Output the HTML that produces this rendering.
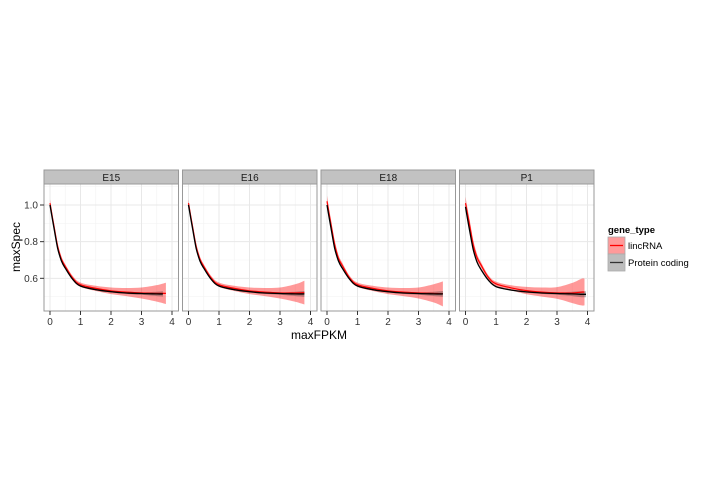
<!DOCTYPE html>
<html><head><meta charset="utf-8"><style>
body{margin:0;background:#fff;}
svg{display:block;font-family:"Liberation Sans",sans-serif;}
</style></head><body>
<svg id="chart" width="720" height="504" viewBox="0 0 720 504"></svg>
<script>
const panels = ["E15","E16","E18","P1"];
const xs = [0,0.125,0.25,0.375,0.5,0.75,1,1.5,2,2.5,3,3.5,3.8];
const linc = {
 E15:[1.01,0.89,0.775,0.705,0.665,0.60,0.565,0.545,0.532,0.525,0.52,0.518,0.518],
 E16:[1.01,0.89,0.775,0.705,0.665,0.60,0.565,0.545,0.532,0.525,0.52,0.52,0.522],
 E18:[1.02,0.90,0.785,0.71,0.67,0.60,0.565,0.545,0.532,0.525,0.52,0.518,0.515],
 P1:[1.01,0.90,0.785,0.715,0.675,0.605,0.57,0.548,0.533,0.525,0.52,0.52,0.525]};
const lincHalf = {
 E15:[0.02,0.02,0.02,0.015,0.012,0.012,0.012,0.014,0.018,0.022,0.03,0.045,0.058],
 E16:[0.02,0.02,0.02,0.015,0.012,0.012,0.012,0.014,0.018,0.022,0.03,0.048,0.065],
 E18:[0.03,0.028,0.025,0.018,0.015,0.012,0.012,0.014,0.018,0.022,0.03,0.05,0.068],
 P1:[0.035,0.03,0.028,0.02,0.015,0.012,0.012,0.014,0.02,0.025,0.032,0.055,0.073]};
const prot = {
 E15:[1.0,0.88,0.765,0.695,0.655,0.593,0.558,0.538,0.527,0.52,0.517,0.515,0.515],
 E16:[1.0,0.88,0.765,0.695,0.655,0.593,0.558,0.538,0.527,0.52,0.517,0.515,0.515],
 E18:[1.0,0.88,0.765,0.695,0.655,0.593,0.558,0.538,0.527,0.52,0.517,0.515,0.515],
 P1:[0.99,0.87,0.76,0.69,0.65,0.59,0.555,0.536,0.526,0.52,0.517,0.515,0.513]};
const protHalf = [0.006,0.005,0.004,0.003,0.003,0.003,0.003,0.003,0.004,0.005,0.007,0.012,0.016];
const xEnd = {E15:3.7,E16:3.8,E18:3.8,P1:3.95};
const lincEnd = {E15:3.8,E16:3.8,E18:3.8,P1:3.9};
const xTicks = [0,1,2,3,4];
const yTicks = [0.6,0.8,1.0];
const yLabels = ["0.6","0.8","1.0"];

const NS="http://www.w3.org/2000/svg";
const svg=document.getElementById('chart');
function el(t,a,p){const e=document.createElementNS(NS,t);for(const k in a)e.setAttribute(k,a[k]);(p||svg).appendChild(e);return e;}
const pLeft=[44,182.5,321,459.5], pW=134.5, plotTop=184, plotBot=311;
const yS=v=>205+(1.0-v)*183.3;
function interp(arr,x){for(let i=0;i<xs.length-1;i++){if(x<=xs[i+1]){const t=(x-xs[i])/(xs[i+1]-xs[i]);return arr[i]+t*(arr[i+1]-arr[i]);}}return arr[arr.length-1];}
function pts(arr,end,xS){const r=[];for(const x of xs){if(x<end)r.push([xS(x),yS(interp(arr,x))]);}r.push([xS(end),yS(interp(arr,end))]);return r;}
function smooth(p,first){let d=(first?'M':'L')+p[0][0].toFixed(1)+','+p[0][1].toFixed(1);
 for(let i=0;i<p.length-1;i++){const p0=p[Math.max(0,i-1)],p1=p[i],p2=p[i+1],p3=p[Math.min(p.length-1,i+2)];
  const c1=[p1[0]+(p2[0]-p0[0])/6,p1[1]+(p2[1]-p0[1])/6],c2=[p2[0]-(p3[0]-p1[0])/6,p2[1]-(p3[1]-p1[1])/6];
  d+='C'+c1.map(v=>v.toFixed(1)).join(',')+' '+c2.map(v=>v.toFixed(1)).join(',')+' '+p2.map(v=>v.toFixed(1)).join(',');}
 return d;}

panels.forEach((name,pi)=>{
 const L=pLeft[pi]; const xS=v=>L+6+v*30.5;
 const g=el('g',{});
 
 
 const s=el('rect',{x:L,y:170,width:pW,height:14,fill:'#c2c2c2',stroke:'#999','stroke-width':1},g);
 
 
 const st=el('text',{x:L+pW/2,y:181,'text-anchor':'middle','font-size':10,fill:'#1a1a1a'},g);st.textContent=name;
 
 
 el('rect',{x:L,y:plotTop,width:pW,height:plotBot-plotTop,fill:'#fff'},g);
 [0.5,1.5,2.5,3.5].forEach(v=>el('line',{x1:xS(v),x2:xS(v),y1:plotTop,y2:plotBot,stroke:'#f3f3f3','stroke-width':0.6},g));
 [0.5,0.7,0.9,1.1].forEach(v=>el('line',{x1:L,x2:L+pW,y1:yS(v),y2:yS(v),stroke:'#f3f3f3','stroke-width':0.6},g));
 xTicks.forEach(v=>el('line',{x1:xS(v),x2:xS(v),y1:plotTop,y2:plotBot,stroke:'#e8e8e8','stroke-width':1},g));
 yTicks.forEach(v=>el('line',{x1:L,x2:L+pW,y1:yS(v),y2:yS(v),stroke:'#e8e8e8','stroke-width':1},g));
 const up=lincHalf[name].map((h,i)=>linc[name][i]+h), lo=lincHalf[name].map((h,i)=>linc[name][i]-h);
 const rb=el('path',{d:smooth(pts(up,lincEnd[name],xS),true)+smooth(pts(lo,lincEnd[name],xS).reverse(),false)+'Z',fill:'#ff0000','fill-opacity':0.4},g);
 
 
 const pu=protHalf.map((h,i)=>prot[name][i]+h), pl=protHalf.map((h,i)=>prot[name][i]-h);
 const pr=el('path',{d:smooth(pts(pu,xEnd[name],xS),true)+smooth(pts(pl,xEnd[name],xS).reverse(),false)+'Z',fill:'#333','fill-opacity':0.35},g);
 
 
 const rl=el('path',{d:smooth(pts(linc[name],lincEnd[name],xS),true),fill:'none',stroke:'#ff0000','stroke-width':1.2},g);
 
 
 const bl=el('path',{d:smooth(pts(prot[name],xEnd[name],xS),true),fill:'none',stroke:'#000','stroke-width':1.3},g);
 
 
 el('rect',{x:L,y:plotTop,width:pW,height:plotBot-plotTop,fill:'none',stroke:'#999','stroke-width':1},g);
 xTicks.forEach(v=>{el('line',{x1:xS(v),x2:xS(v),y1:plotBot,y2:plotBot+4,stroke:'#333'},g);
  const t=el('text',{x:xS(v),y:plotBot+14,'text-anchor':'middle','font-size':10,fill:'#333'},g);t.textContent=v;
  
  });
 if(pi===0){yTicks.forEach((v,i)=>{el('line',{x1:L-4,x2:L,y1:yS(v),y2:yS(v),stroke:'#333'},g);
  const t=el('text',{x:L-6,y:yS(v)+3.5,'text-anchor':'end','font-size':10,fill:'#333'},g);t.textContent=yLabels[i];
  
  });}
});
const xt=el('text',{x:319,y:339,'text-anchor':'middle','font-size':12,fill:'#000'});xt.textContent='maxFPKM';


const yt=el('text',{x:0,y:0,'text-anchor':'middle','font-size':12,fill:'#000',transform:'translate(20,247) rotate(-90)'});yt.textContent='maxSpec';


const lg=el('g',{});


const lt=el('text',{x:608,y:233,'font-size':9.5,'font-weight':'bold',fill:'#000'},lg);lt.textContent='gene_type';


[["lincRNA","#ff9a9a","#ff0000",237],["Protein coding","#bdbdbd","#333",254]].forEach(d=>{
 const e=el('g',{},lg);
 
 
 el('rect',{x:608,y:d[3],width:17,height:17,fill:d[1],stroke:'#aaa','stroke-width':0.8},e);
 el('line',{x1:610,x2:623,y1:d[3]+8.5,y2:d[3]+8.5,stroke:d[2],'stroke-width':1.3},e);
 const t=el('text',{x:628,y:d[3]+12,'font-size':9.5,fill:'#000'},e);t.textContent=d[0];
});
</script>
</body></html>
